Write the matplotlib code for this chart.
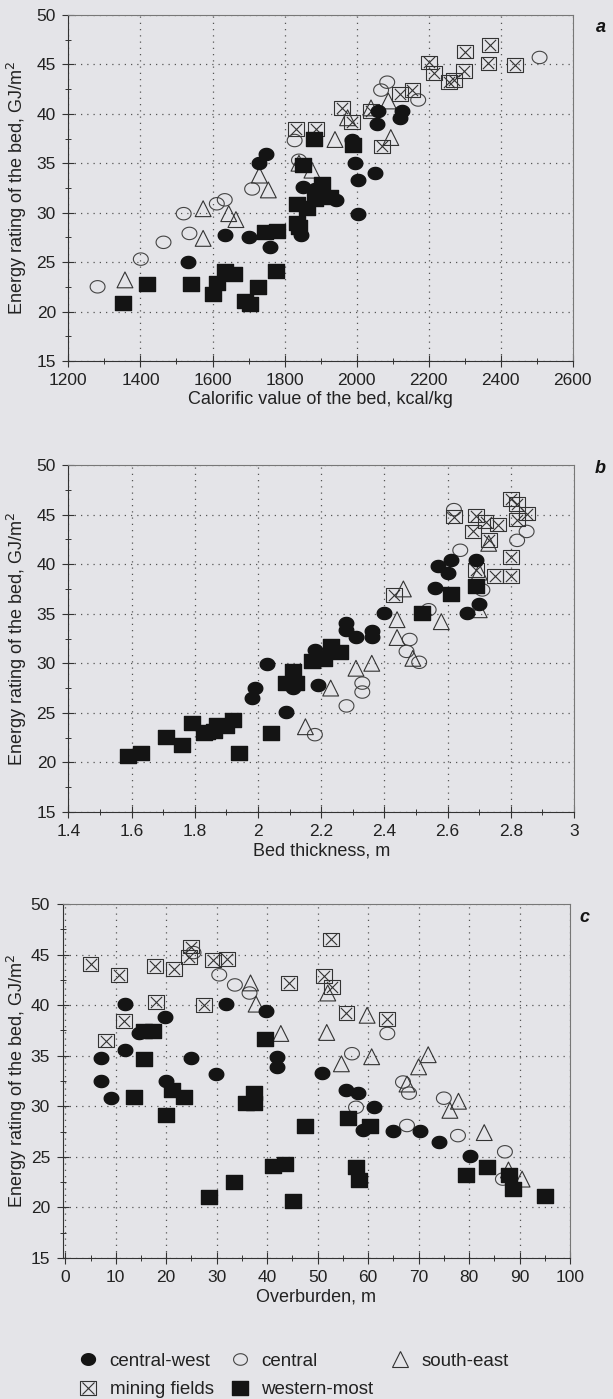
import numpy as np
import matplotlib
matplotlib.use("Agg")
import matplotlib.pyplot as plt
from matplotlib.path import Path
from matplotlib.lines import Line2D
from matplotlib.ticker import MultipleLocator, FixedLocator

plt.rcParams['font.family'] = ['Liberation Sans', 'DejaVu Sans']

# ---- panel a: calorific value (kcal/kg) vs energy rating (GJ/m2)
cw_a_x = [1531, 1636, 1702, 1759, 1749, 1730, 1846, 1851, 1884, 1944, 1986, 1995, 2005, 2051, 2005, 2060, 2125, 2056, 2121]
cw_a_y = [25.0, 27.7, 27.5, 26.5, 35.9, 35.0, 27.7, 32.6, 32.4, 31.3, 37.4, 35.0, 33.3, 34.0, 29.9, 40.3, 40.3, 39.0, 39.6]
ce_a_x = [1281, 1401, 1464, 1536, 1520, 1612, 1634, 1710, 1840, 1828, 2068, 2085, 2171, 2508, 1855]
ce_a_y = [22.5, 25.3, 27.0, 27.9, 29.9, 30.9, 31.3, 32.4, 35.3, 37.3, 42.4, 43.2, 41.4, 45.7, 34.8]
se_a_x = [1357, 1574, 1574, 1645, 1665, 1730, 1755, 1840, 1876, 1940, 2095, 2088, 1975, 2040]
se_a_y = [23.2, 27.4, 30.4, 29.9, 29.3, 33.8, 32.3, 35.0, 34.3, 37.4, 37.6, 41.3, 39.6, 40.6]
mf_a_x = [2200, 2215, 2256, 2270, 2302, 2298, 2370, 2366, 2440, 2120, 2155, 1960, 1988, 2040, 1832, 1887, 2070]
mf_a_y = [45.2, 44.1, 43.2, 43.4, 46.3, 44.3, 47.0, 45.1, 44.9, 42.0, 42.4, 40.6, 39.2, 40.3, 38.5, 38.5, 36.7]
wm_a_x = [1352, 1417, 1539, 1602, 1612, 1634, 1661, 1691, 1704, 1726, 1775, 1745, 1780, 1835, 1840, 1835, 1862, 1885, 1926, 1851, 1882, 1990, 1905]
wm_a_y = [20.9, 22.8, 22.8, 21.8, 22.9, 24.1, 23.8, 21.1, 20.8, 22.5, 24.1, 28.0, 28.1, 29.0, 28.6, 30.9, 30.5, 31.4, 31.6, 34.8, 37.5, 36.8, 32.9]

# ---- panel b: bed thickness (m)
cw_b_x = [2.57, 2.60, 2.61, 2.69, 2.56, 2.66, 2.70, 2.40, 2.28, 2.28, 2.31, 2.36, 2.36, 2.18, 2.19, 2.09, 2.03, 1.99, 1.98, 2.11]
cw_b_y = [39.8, 39.1, 40.4, 40.4, 37.6, 35.1, 36.0, 35.1, 34.1, 33.4, 32.7, 33.3, 32.7, 31.3, 27.8, 25.1, 29.9, 27.5, 26.5, 27.5]
ce_b_x = [2.62, 2.85, 2.82, 2.64, 2.71, 2.54, 2.48, 2.47, 2.51, 2.33, 2.33, 2.28, 2.18]
ce_b_y = [45.5, 43.3, 42.4, 41.4, 37.4, 35.4, 32.4, 31.2, 30.1, 28.0, 27.1, 25.7, 22.8]
se_b_x = [2.46, 2.44, 2.44, 2.49, 2.58, 2.73, 2.70, 2.31, 2.36, 2.23, 2.15, 2.70]
se_b_y = [37.5, 34.4, 32.6, 30.5, 34.2, 42.1, 39.2, 29.5, 30.0, 27.5, 23.6, 35.4]
mf_b_x = [2.80, 2.82, 2.85, 2.82, 2.62, 2.69, 2.72, 2.76, 2.68, 2.73, 2.80, 2.69, 2.75, 2.80, 2.43]
mf_b_y = [46.6, 46.1, 45.1, 44.5, 44.8, 44.9, 44.3, 44.0, 43.3, 42.4, 40.7, 39.4, 38.8, 38.8, 36.9]
wm_b_x = [2.69, 2.61, 2.52, 2.23, 2.26, 2.17, 2.21, 2.11, 2.09, 2.12, 1.92, 1.90, 1.86, 1.87, 1.83, 1.79, 1.71, 2.04,
          1.59, 1.63, 1.76, 1.84, 1.94]
wm_b_y = [37.8, 37.0, 35.1, 31.7, 31.1, 30.2, 30.4, 29.2, 28.0, 28.0, 24.3, 23.7, 23.2, 23.8, 23.0, 24.0, 22.6, 23.0,
          20.6, 21.0, 21.8, 23.1, 21.0]

# ---- panel c: overburden (m)
cw_c_x = [7.0, 7.0, 9.1, 11.9, 11.9, 14.7, 19.8, 20.0, 24.9, 29.9, 31.9, 39.8, 41.9, 41.9, 50.8, 55.7, 58.0, 61.1, 59.0, 65.0, 70.2, 74.0, 80.1]
cw_c_y = [34.8, 32.5, 30.8, 40.1, 35.6, 37.2, 38.8, 32.5, 34.8, 33.2, 40.1, 39.4, 34.9, 33.9, 33.3, 31.6, 31.3, 29.9, 27.7, 27.6, 27.6, 26.5, 25.1]
ce_c_x = [25.4, 30.5, 33.6, 36.5, 56.8, 63.8, 66.9, 68.1, 57.6, 67.7, 75.0, 77.8, 87.1, 86.7]
ce_c_y = [45.2, 43.0, 42.0, 41.2, 35.2, 37.2, 32.4, 31.3, 29.9, 28.1, 30.8, 27.1, 25.5, 22.8]
se_c_x = [36.7, 37.8, 42.7, 51.8, 52.0, 59.8, 54.7, 60.7, 70.0, 71.9, 67.7, 76.2, 77.9, 83.0, 87.8, 90.5]
se_c_y = [42.2, 40.1, 37.2, 37.3, 41.2, 39.0, 34.2, 34.9, 33.9, 35.1, 32.2, 29.6, 30.5, 27.4, 23.7, 22.8]
mf_c_x = [5.0, 10.7, 17.7, 21.6, 24.9, 24.5, 29.3, 32.0, 17.9, 11.7, 8.0, 27.4, 44.4, 52.6, 51.2, 52.8, 55.7, 63.8]
mf_c_y = [44.1, 43.0, 43.9, 43.6, 45.8, 44.8, 44.5, 44.6, 40.3, 38.4, 36.5, 40.0, 42.2, 46.5, 42.9, 41.8, 39.2, 38.6]
wm_c_x = [15.5, 17.3, 15.5, 13.6, 21.2, 23.6, 20.0, 37.3, 35.8, 37.4, 39.6, 47.4, 56.0, 60.3, 41.2, 43.5, 33.4, 57.6, 58.2,
          79.3, 83.6, 88.0, 88.8, 28.5, 45.2, 95.0]
wm_c_y = [37.4, 37.4, 34.7, 30.9, 31.6, 30.9, 29.1, 31.3, 30.3, 30.3, 36.7, 28.1, 28.8, 28.1, 24.1, 24.3, 22.5, 24.0, 22.7,
          23.2, 24.0, 23.2, 21.8, 21.0, 20.6, 21.1]

bg = '#e4e4e8'
ink = '#141414'

# slightly wide markers, like the scanned print
t = np.linspace(0, 2 * np.pi, 40)
ellipse = Path(np.column_stack([1.2 * np.cos(t), np.sin(t)]), closed=True)
rect = Path([(-1.15, -1), (1.15, -1), (1.15, 1), (-1.15, 1), (-1.15, -1)], closed=True)


def draw_series(ax, cw, ce, se, mf, wm):
    ax.scatter(*ce, marker=ellipse, s=115, facecolors='none', edgecolors='#444444', linewidths=0.8, zorder=3)
    ax.scatter(*se, marker='^', s=130, facecolors='none', edgecolors='#333333', linewidths=0.8, zorder=3)
    ax.scatter(*mf, marker=rect, s=130, facecolors='none', edgecolors='#333333', linewidths=0.8, zorder=3)
    ax.scatter(*mf, marker='x', s=65, color='#333333', linewidths=0.8, zorder=3)
    ax.scatter(*cw, marker=ellipse, s=110, color=ink, zorder=4)
    ax.scatter(*wm, marker=rect, s=135, color=ink, zorder=4)


def style(ax, xlim, xmajor, xminor, xlabels, xlabel):
    ax.set_facecolor(bg)
    ax.set_xlim(*xlim)
    ax.set_ylim(15, 50)
    ax.xaxis.set_major_locator(FixedLocator(xmajor))
    ax.set_xticklabels(xlabels)
    ax.xaxis.set_minor_locator(MultipleLocator(xminor))
    ax.yaxis.set_major_locator(MultipleLocator(5))
    ax.yaxis.set_minor_locator(MultipleLocator(2.5))
    ax.grid(True, which='major', linestyle=(0, (1, 4)), color='#555555', linewidth=0.9)
    ax.tick_params(which='both', direction='inout', color='#333333', labelsize=12.5, labelcolor='#222222')
    ax.tick_params(which='major', length=8, width=0.8, pad=5)
    ax.tick_params(which='minor', length=5, width=0.7)
    for side in ['top', 'right']:
        ax.spines[side].set_color('#777777')
        ax.spines[side].set_linewidth(0.8)
    for side in ['left', 'bottom']:
        ax.spines[side].set_color('#333333')
        ax.spines[side].set_linewidth(0.8)
    ax.set_xlabel(xlabel, fontsize=13, color='#222222', labelpad=2)
    ax.set_ylabel('Energy rating of the bed, GJ/m$^2$', fontsize=13, color='#222222')


fig = plt.figure(figsize=(6.13, 13.99), dpi=100, facecolor=bg)
ax_a = fig.add_axes([0.1116, 0.7420, 0.8227, 0.2473])
ax_b = fig.add_axes([0.1116, 0.4196, 0.8248, 0.2480])
ax_c = fig.add_axes([0.1020, 0.1008, 0.8279, 0.2530])

draw_series(ax_a, (cw_a_x, cw_a_y), (ce_a_x, ce_a_y), (se_a_x, se_a_y), (mf_a_x, mf_a_y), (wm_a_x, wm_a_y))
style(ax_a, (1200, 2600), list(range(1200, 2601, 200)), 100,
      [str(v) for v in range(1200, 2601, 200)], 'Calorific value of the bed, kcal/kg')

draw_series(ax_b, (cw_b_x, cw_b_y), (ce_b_x, ce_b_y), (se_b_x, se_b_y), (mf_b_x, mf_b_y), (wm_b_x, wm_b_y))
style(ax_b, (1.4, 3.0), [1.4, 1.6, 1.8, 2.0, 2.2, 2.4, 2.6, 2.8, 3.0], 0.1,
      ['1.4', '1.6', '1.8', '2', '2.2', '2.4', '2.6', '2.8', '3'], 'Bed thickness, m')

draw_series(ax_c, (cw_c_x, cw_c_y), (ce_c_x, ce_c_y), (se_c_x, se_c_y), (mf_c_x, mf_c_y), (wm_c_x, wm_c_y))
style(ax_c, (-0.55, 100), list(range(0, 101, 10)), 5,
      [str(v) for v in range(0, 101, 10)], 'Overburden, m')

# y labels: right edge of the rotated text at the same figure x for every panel
for ax in (ax_a, ax_b, ax_c):
    x0 = ax.get_position().x0
    w = ax.get_position().width
    ax.yaxis.set_label_coords((0.047 - x0) / w, 0.5)

fig.text(0.988, 0.980, 'a', fontsize=13, fontweight='bold', fontstyle='italic', ha='right', va='center', color=ink)
fig.text(0.988, 0.665, 'b', fontsize=13, fontweight='bold', fontstyle='italic', ha='right', va='center', color=ink)
fig.text(0.962, 0.344, 'c', fontsize=13, fontweight='bold', fontstyle='italic', ha='right', va='center', color=ink)

# legend
h_cw = Line2D([], [], marker=ellipse, linestyle='none', markersize=10, color=ink)
h_ce = Line2D([], [], marker=ellipse, linestyle='none', markersize=10, markerfacecolor='none',
              markeredgecolor='#444444', markeredgewidth=0.8)
h_se = Line2D([], [], marker='^', linestyle='none', markersize=11, markerfacecolor='none',
              markeredgecolor='#333333', markeredgewidth=0.8)
h_mf1 = Line2D([], [], marker=rect, linestyle='none', markersize=11, markerfacecolor='none',
               markeredgecolor='#333333', markeredgewidth=0.8)
h_mf2 = Line2D([], [], marker='x', linestyle='none', markersize=8, color='#333333', markeredgewidth=0.8)
h_wm = Line2D([], [], marker=rect, linestyle='none', markersize=11, color=ink)

leg = fig.legend([h_cw, (h_mf1, h_mf2), h_ce, h_wm, h_se],
                 ['central-west', 'mining fields', 'central', 'western-most', 'south-east'],
                 ncol=3, loc='upper left', bbox_to_anchor=(0.113, 0.0385), frameon=False,
                 fontsize=13.5, handlelength=1.2, handletextpad=0.55, columnspacing=0.8,
                 labelspacing=0.6, borderaxespad=0)
for txt in leg.get_texts():
    txt.set_color('#222222')

fig.savefig('out.png', dpi=100, facecolor=bg)
